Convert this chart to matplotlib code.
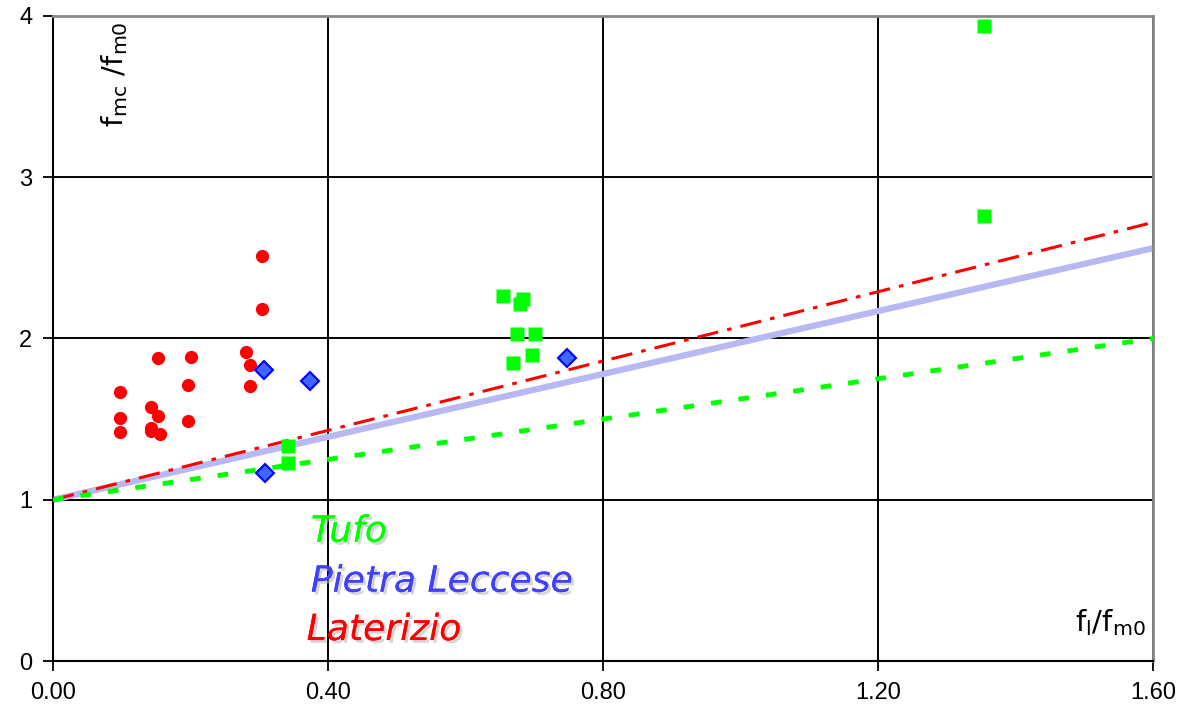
import matplotlib
matplotlib.use('Agg')
import matplotlib.pyplot as plt
import matplotlib.patheffects as pe

# Laterizio (red circles)
lat_x = [0.098, 0.097, 0.098, 0.142, 0.142, 0.142, 0.152, 0.152, 0.155,
         0.196, 0.196, 0.200, 0.281, 0.287, 0.287, 0.304, 0.304]
lat_y = [1.668, 1.509, 1.420, 1.577, 1.447, 1.426, 1.877, 1.519, 1.406,
         1.714, 1.490, 1.887, 1.914, 1.836, 1.705, 2.513, 2.183]

# Pietra Leccese (blue diamonds)
pl_x = [0.307, 0.374, 0.308, 0.748]
pl_y = [1.805, 1.736, 1.164, 1.877]

# Tufo (green squares)
tufo_x = [0.342, 0.342, 0.655, 0.684, 0.679, 0.675, 0.701, 0.697, 0.669, 1.354, 1.354]
tufo_y = [1.333, 1.226, 2.266, 2.245, 2.216, 2.030, 2.028, 1.900, 1.846, 3.938, 2.760]

# model lines (end points)
line_x = [0.0, 1.6]
lat_line_y = [1.0, 2.72]
pl_line_y = [1.0, 2.56]
tufo_line_y = [1.0, 2.0]

x_ticks = [0.0, 0.4, 0.8, 1.2, 1.6]
y_ticks = [0, 1, 2, 3, 4]

fig = plt.figure(figsize=(11.89, 7.16), dpi=100)
ax = fig.add_axes([0.0446, 0.0768, 0.9251, 0.9009])

ax.plot(line_x, pl_line_y, color='#b8b8f2', lw=4.5, solid_capstyle='butt', zorder=2)
ax.plot(line_x, lat_line_y, color='#ff0000', lw=2.2, dashes=(7, 3, 1.5, 3), zorder=3)
ax.plot(line_x, tufo_line_y, color='#00ff00', lw=3.5, dashes=(2.2, 3.5), zorder=3)

ax.plot(lat_x, lat_y, 'o', color='#ff0000', ms=9.5, mec='none', zorder=4)
ax.plot(tufo_x, tufo_y, 's', color='#00ff00', ms=10, mec='none', zorder=4)
ax.plot(pl_x, pl_y, 'D', color='#3f66ff', mec='#0000ff', mew=1.5, ms=9.5, zorder=5)

ax.set_xlim(0, 1.6)
ax.set_ylim(0, 4)
ax.set_xticks(x_ticks)
ax.set_xticklabels(['%.2f' % v for v in x_ticks])
ax.set_yticks(y_ticks)
ax.grid(True, color='black', lw=1.4)
ax.set_axisbelow(True)
for s in ['top', 'right']:
    ax.spines[s].set_color('#888888')
    ax.spines[s].set_linewidth(2)
for s in ['left', 'bottom']:
    ax.spines[s].set_color('black')
    ax.spines[s].set_linewidth(1.5)
ax.tick_params(labelsize=17, length=7, width=1.3, direction='out', pad=8)
for lab in ax.get_xticklabels() + ax.get_yticklabels():
    lab.set_family('Liberation Sans')

ax.text(0.09, 3.64, r'f$_{\mathrm{mc}}$ /f$_{\mathrm{m0}}$', rotation=90,
        fontsize=21, ha='center', va='center')
ax.text(1.59, 0.14, r'f$_{\mathrm{l}}$/f$_{\mathrm{m0}}$', fontsize=21,
        ha='right', va='bottom')

shadow = [pe.withSimplePatchShadow(offset=(2, -2), shadow_rgbFace='#bbbbbb', alpha=0.6),
          pe.Normal()]
ax.text(0.375, 0.74, 'Tufo', color='#00ff00', fontsize=26, style='italic',
        path_effects=shadow)
ax.text(0.375, 0.43, 'Pietra Leccese', color='#4040ff', fontsize=26, style='italic',
        path_effects=shadow)
ax.text(0.369, 0.13, 'Laterizio', color='#ff0000', fontsize=26, style='italic',
        path_effects=shadow)

fig.savefig('out.png', dpi=100)
